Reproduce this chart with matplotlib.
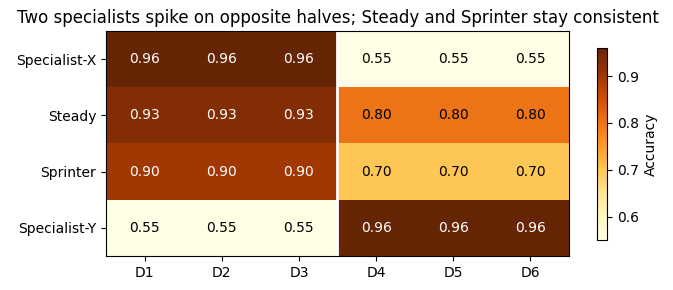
import numpy as np
import matplotlib.pyplot as plt

models = ['Specialist-X', 'Steady', 'Sprinter', 'Specialist-Y']
datasets = ['D1', 'D2', 'D3', 'D4', 'D5', 'D6']
specialist_x = [0.96, 0.96, 0.96, 0.55, 0.55, 0.55]
steady = [0.93, 0.93, 0.93, 0.80, 0.80, 0.80]
sprinter = [0.90, 0.90, 0.90, 0.70, 0.70, 0.70]
specialist_y = [0.55, 0.55, 0.55, 0.96, 0.96, 0.96]

acc = np.array([specialist_x, steady, sprinter, specialist_y])

fig = plt.figure(figsize=(6.73, 2.9), dpi=100)
ax = fig.add_axes([106 / 673, 34 / 290, 463 / 673, 225 / 290])
im = ax.imshow(acc, cmap='YlOrBr', aspect='auto', vmin=acc.min(), vmax=acc.max())

ax.set_xticks(range(len(datasets)))
ax.set_xticklabels(datasets)
ax.set_yticks(range(len(models)))
ax.set_yticklabels(models)

for i in range(acc.shape[0]):
    for j in range(acc.shape[1]):
        v = acc[i, j]
        ax.text(j, i, f'{v:.2f}', ha='center', va='center',
                color='white' if v > 0.85 else 'black', fontsize=10)

ax.axvline(2.5, color='white', linewidth=2)
ax.set_title('Two specialists spike on opposite halves; Steady and Sprinter stay consistent',
             fontsize=12)

cax = fig.add_axes([597 / 673, 50 / 290, 10 / 673, 192 / 290])
cb = fig.colorbar(im, cax=cax)
cb.set_label('Accuracy')

plt.savefig('out.png', dpi=100)
